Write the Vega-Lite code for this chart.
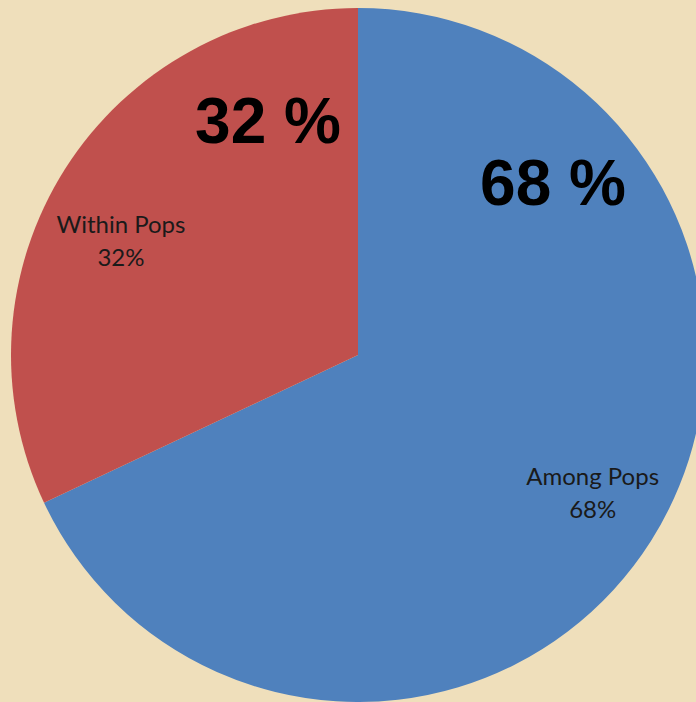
{
  "$schema": "https://vega.github.io/schema/vega-lite/v6.json",
  "width": 696,
  "height": 694,
  "autosize": {"type": "none"},
  "padding": {"left": 10, "top": 8, "right": 0, "bottom": 0},
  "background": "#efdfbb",
  "view": {"stroke": null},
  "data": {
    "values": [
      {"group": "Among Pops", "value": 68, "order": 1, "label": "Among Pops\n68%", "big": "68 %"},
      {"group": "Within Pops", "value": 32, "order": 2, "label": "Within Pops\n32%", "big": "32 %"}
    ]
  },
  "transform": [
    {"stack": "value", "groupby": [], "sort": [{"field": "order", "order": "ascending"}], "as": ["start", "end"]},
    {"calculate": "(datum.start + datum.end) / 2", "as": "mid"}
  ],
  "layer": [
    {
      "mark": {"type": "arc", "stroke": null},
      "encoding": {
        "theta": {"field": "start", "type": "quantitative", "scale": {"domain": [0, 100]}},
        "theta2": {"field": "end"},
        "color": {
          "field": "group",
          "type": "nominal",
          "scale": {"domain": ["Among Pops", "Within Pops"], "range": ["#4f81bd", "#c0504d"]},
          "legend": null
        }
      }
    },
    {
      "transform": [{"filter": "datum.group === 'Among Pops'"}],
      "mark": {"type": "text", "radius": 272, "dx": 5, "dy": -23, "font": "Lato", "fontSize": 24, "lineHeight": 33, "lineBreak": "\n", "align": "center", "baseline": "middle", "color": "#1a1a1a"},
      "encoding": {
        "theta": {"field": "mid", "type": "quantitative", "scale": {"domain": [0, 100]}},
        "text": {"field": "label"}
      }
    },
    {
      "transform": [{"filter": "datum.group === 'Within Pops'"}],
      "mark": {"type": "text", "radius": 263, "dx": -15, "dy": 12, "font": "Lato", "fontSize": 24, "lineHeight": 33, "lineBreak": "\n", "align": "center", "baseline": "middle", "color": "#1a1a1a"},
      "encoding": {
        "theta": {"field": "mid", "type": "quantitative", "scale": {"domain": [0, 100]}},
        "text": {"field": "label"}
      }
    },
    {
      "transform": [{"filter": "datum.group === 'Among Pops'"}],
      "mark": {"type": "text", "radius": 0, "dx": 195, "dy": -169, "font": "Liberation Sans", "fontWeight": "bold", "fontSize": 64, "align": "center", "baseline": "middle", "color": "#000000"},
      "encoding": {
        "theta": {"field": "mid", "type": "quantitative", "scale": {"domain": [0, 100]}},
        "text": {"field": "big"}
      }
    },
    {
      "transform": [{"filter": "datum.group === 'Within Pops'"}],
      "mark": {"type": "text", "radius": 0, "dx": -90, "dy": -231, "font": "Liberation Sans", "fontWeight": "bold", "fontSize": 64, "align": "center", "baseline": "middle", "color": "#000000"},
      "encoding": {
        "theta": {"field": "mid", "type": "quantitative", "scale": {"domain": [0, 100]}},
        "text": {"field": "big"}
      }
    }
  ]
}
